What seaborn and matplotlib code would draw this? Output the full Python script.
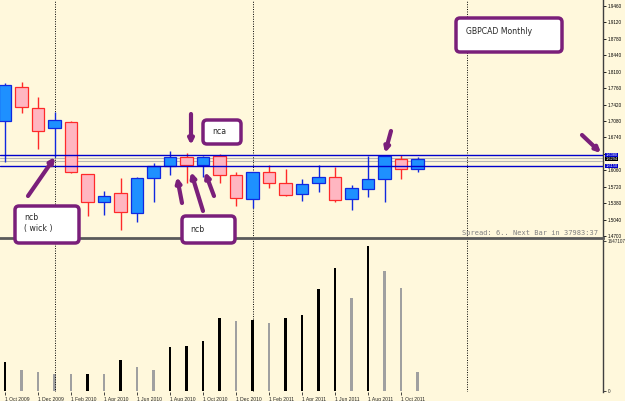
import matplotlib
matplotlib.use("Agg")
import matplotlib.pyplot as plt
import matplotlib.transforms as mtransforms
from matplotlib.patches import FancyBboxPatch, FancyArrowPatch
import pandas as pd
import seaborn as sns

# monthly GBPCAD candles, Oct 2009 .. Nov 2011
months = ["Oct 2009", "Nov 2009", "Dec 2009", "Jan 2010", "Feb 2010", "Mar 2010",
          "Apr 2010", "May 2010", "Jun 2010", "Jul 2010", "Aug 2010", "Sep 2010",
          "Oct 2010", "Nov 2010", "Dec 2010", "Jan 2011", "Feb 2011", "Mar 2011",
          "Apr 2011", "May 2011", "Jun 2011", "Jul 2011", "Aug 2011", "Sep 2011",
          "Oct 2011", "Nov 2011"]
opens = [1.7080, 1.7784, 1.7349, 1.6935, 1.7059, 1.5983, 1.5404, 1.5590, 1.5176,
         1.5900, 1.6149, 1.6335, 1.6170, 1.6356, 1.5962, 1.5466, 1.6025, 1.5797,
         1.5569, 1.5797, 1.5921, 1.5466, 1.5673, 1.5880, 1.6294, 1.6087]
highs = [1.7867, 1.7887, 1.7577, 1.7266, 1.7080, 1.5990, 1.5631, 1.5900, 1.5921,
         1.6211, 1.6459, 1.6418, 1.6356, 1.6397, 1.6025, 1.6030, 1.6170, 1.6087,
         1.5880, 1.6170, 1.6128, 1.5755, 1.6356, 1.6376, 1.6376, 1.6335]
lows = [1.6232, 1.7246, 1.6501, 1.6335, 1.6004, 1.5114, 1.5134, 1.4824, 1.4989,
        1.5404, 1.5962, 1.5797, 1.5921, 1.5797, 1.5321, 1.5279, 1.5693, 1.5528,
        1.5424, 1.5611, 1.5404, 1.5238, 1.5507, 1.5404, 1.5880, 1.6025]
closes = [1.7825, 1.7370, 1.6873, 1.7101, 1.6025, 1.5404, 1.5528, 1.5197, 1.5900,
          1.6149, 1.6335, 1.6170, 1.6335, 1.5962, 1.5486, 1.6025, 1.5797, 1.5549,
          1.5776, 1.5921, 1.5445, 1.5693, 1.5880, 1.6356, 1.6087, 1.6294]
volumes = [318000, 231000, 209000, 187000, 186000, 190000, 182000, 340000, 264000,
           231000, 483000, 494000, 549000, 802000, 769000, 780000, 747000, 802000,
           835000, 1120000, 1351000, 1021000, 1592000, 1318000, 1131000, 209000]

date_labels = ["1 Oct 2009", "1 Dec 2009", "1 Feb 2010", "1 Apr 2010", "1 Jun 2010",
               "1 Aug 2010", "1 Oct 2010", "1 Dec 2010", "1 Feb 2011", "1 Apr 2011",
               "1 Jun 2011", "1 Aug 2011", "1 Oct 2011"]
price_ticks = [1.9460, 1.9120, 1.8780, 1.8440, 1.8100, 1.7760, 1.7420, 1.7080,
               1.6740, 1.6400, 1.6060, 1.5720, 1.5380, 1.5040, 1.4700]
hidden_tick = 1.6400  # covered by the price boxes on the scale
level_hi = 1.6380
level_lo = 1.6150
bid = 1.6294
grey_levels = [1.6320, 1.6262]
year_starts = [3, 15, 28]  # Jan 2010, Jan 2011, Jan 2012
vol_top = 1647107

BG = "#FFF8DC"
PURPLE = "#7a1f7a"

sns.set_theme(style="white")
plt.rcParams["font.family"] = ["Liberation Sans", "DejaVu Sans"]

fig = plt.figure(figsize=(6.25, 4.01), dpi=100, facecolor=BG)
W, H = 625, 401
ax_p = fig.add_axes([0, 1 - 238 / H, 603 / W, 238 / H], facecolor=BG)
ax_v = fig.add_axes([0, 1 - 392 / H, 603 / W, 152 / H], facecolor=BG)

xlim = (-5 / 16.5, 598 / 16.5)

# candles
for i in range(len(months)):
    o, h, l, c = opens[i], highs[i], lows[i], closes[i]
    if c >= o:
        face, edge = "#1E90FF", "#1028E0"
    else:
        face, edge = "#FFB6C1", "#FF2A2A"
    ax_p.vlines(i, l, h, color=edge, lw=1, zorder=2)
    ax_p.bar(i, abs(c - o), bottom=min(o, c), width=0.75, color=face,
             edgecolor=edge, linewidth=0.9, zorder=3)

ax_p.axhline(level_hi, color="#0000CC", lw=1, zorder=4)
ax_p.axhline(level_lo, color="#0000CC", lw=1, zorder=4)
for g in grey_levels:
    ax_p.axhline(g, color="#B8B8B8", lw=0.8, zorder=1)

ax_p.set_xlim(xlim)
ax_p.set_ylim(1.46585, 1.95842)
ax_p.set_xticks([])
ax_p.yaxis.tick_right()
ax_p.set_yticks(price_ticks)
ax_p.set_yticklabels(["" if t == hidden_tick else f"{t:.4f}" for t in price_ticks])
ax_p.tick_params(axis="y", right=True, length=2, width=0.6, pad=1.5,
                 labelsize=3.3, colors="#000000")
for s in ["top", "left"]:
    ax_p.spines[s].set_visible(False)
ax_p.spines["right"].set_color("#404040")
ax_p.spines["right"].set_linewidth(1)
ax_p.spines["bottom"].set_color("#5a5a5a")
ax_p.spines["bottom"].set_linewidth(2)

# price label boxes on the right scale
tr = mtransforms.blended_transform_factory(ax_p.transAxes, ax_p.transData)
for val, fc in [(level_hi, "#0000CC"), (bid, "#000000"), (level_lo, "#0000CC")]:
    ax_p.text(1.004, val, f"{val:.4f}", transform=tr, fontsize=2.8, color="white",
              va="center", ha="left", clip_on=False, zorder=10,
              bbox=dict(boxstyle="square,pad=0.08", fc=fc, ec="none"))

ax_p.text(598 / 603, 5 / 238, "Spread: 6.. Next Bar in 37983:37",
          transform=ax_p.transAxes, ha="right", va="center", fontsize=5,
          family="DejaVu Sans Mono", color="#808080")

# volumes
up = [True] + [volumes[i] >= volumes[i - 1] for i in range(1, len(volumes))]
vol_df = pd.DataFrame({"idx": range(len(volumes)), "vol": volumes,
                       "dir": ["up" if u else "down" for u in up]})
sns.barplot(data=vol_df, x="idx", y="vol", hue="dir",
            palette={"up": "#000000", "down": "#A0A0A0"}, native_scale=True,
            width=0.13, dodge=False, legend=False, linewidth=0, ax=ax_v)
ax_v.set_xlim(xlim)
ax_v.set_ylim(-11000, vol_top + 11000)
ax_v.set_xlabel("")
ax_v.set_ylabel("")
ax_v.yaxis.tick_right()
ax_v.set_yticks([0, vol_top])
ax_v.set_yticklabels(["0", str(vol_top)])
ax_v.tick_params(axis="y", right=True, length=2, width=0.6, pad=1.5, labelsize=3.3)
ax_v.set_xticks(range(0, 26, 2))
ax_v.set_xticklabels(date_labels, ha="left")
ax_v.tick_params(axis="x", bottom=True, length=2, width=0.6, pad=1.5, labelsize=3.6)
for s in ["top", "left", "bottom"]:
    ax_v.spines[s].set_visible(False)
ax_v.spines["right"].set_color("#404040")
ax_v.spines["right"].set_linewidth(1)

for ax in (ax_p, ax_v):
    for xs in year_starts:
        ax.axvline(xs, color="#000000", lw=0.7, ls=(0, (1, 1.5)), zorder=1)

# annotation overlay in pixel coordinates
ax_o = fig.add_axes([0, 0, 1, 1], facecolor="none")
ax_o.set_xlim(0, W)
ax_o.set_ylim(H, 0)
ax_o.axis("off")

boxes = [(456, 18, 106, 34), (203, 120, 38, 24), (15, 206, 64, 37), (182, 216, 53, 27)]
for x, y, w, h in boxes:
    ax_o.add_patch(FancyBboxPatch((x, y), w, h, boxstyle="round,pad=0,rounding_size=4",
                                  fc="white", ec=PURPLE, lw=2.5, zorder=5))
ax_o.text(466, 32, "GBPCAD Monthly", fontsize=5.6, family="DejaVu Sans",
          va="center", ha="left", zorder=6)
ax_o.text(212, 132, "nca", fontsize=5.6, family="DejaVu Sans", va="center", zorder=6)
ax_o.text(24, 218, "ncb", fontsize=5.6, family="DejaVu Sans", va="center", zorder=6)
ax_o.text(24, 229, "( wick )", fontsize=5.6, family="DejaVu Sans", va="center", zorder=6)
ax_o.text(190, 230, "ncb", fontsize=5.6, family="DejaVu Sans", va="center", zorder=6)

arrows = [((28, 196), (55, 157)), ((191, 114), (191, 145)), ((182, 203), (177, 177)),
          ((203, 211), (191, 172)), ((214, 196), (205, 172)), ((391, 131), (385, 153)),
          ((582, 135), (601, 153))]
for tail, tip in arrows:
    ax_o.add_patch(FancyArrowPatch(tail, tip, arrowstyle="-|>", mutation_scale=7,
                                   lw=3, color=PURPLE, shrinkA=0, shrinkB=0, zorder=7))

fig.savefig("out.png", dpi=100, facecolor=BG)
